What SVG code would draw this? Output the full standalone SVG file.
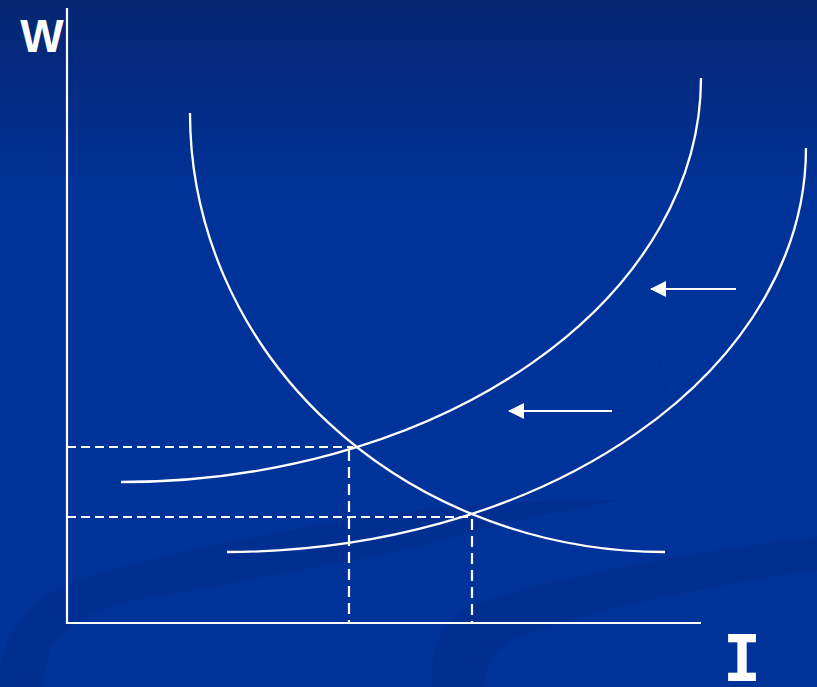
<svg xmlns="http://www.w3.org/2000/svg" width="817" height="687" viewBox="0 0 817 687">
<defs>
<linearGradient id="bg" x1="0" y1="0" x2="0" y2="1">
<stop offset="0" stop-color="#052672"/>
<stop offset="0.3" stop-color="#00339a"/>
<stop offset="1" stop-color="#003399"/>
</linearGradient>
<marker id="ah" viewBox="0 0 16 16" refX="15" refY="8" markerWidth="16" markerHeight="16" markerUnits="userSpaceOnUse" orient="auto">
<path d="M0,0 L16,8 L0,16 Z" fill="#ffffff"/>
</marker>
<style>
.ax{stroke:#ffffff;stroke-width:2.2;fill:none}
.cv{stroke:#ffffff;stroke-width:2.3;fill:none}
.dh{stroke:#ffffff;stroke-width:2.2;fill:none;stroke-dasharray:9 5}
.dv{stroke:#ffffff;stroke-width:2.2;fill:none;stroke-dasharray:11 6}
.ar{stroke:#ffffff;stroke-width:2.2;fill:none}
.sw{fill:#00287c;opacity:0.28}
.lbl{fill:#ffffff;font-weight:bold}
</style>
</defs>
<rect x="0" y="0" width="817" height="687" fill="url(#bg)"/>
<g id="background-swooshes">
<path class="sw" d="M0,667 C5,630 30,600 70,583 C150,555 300,525 420,510 C500,502 570,500 625,500 C560,510 480,528 420,547 C330,565 200,590 133,600 C85,612 60,630 50,650 C45,665 43,680 43,687 L0,687 Z"/>
<path class="sw" d="M433,687 C430,660 435,630 460,612 C500,590 600,570 700,553 C750,545 790,540 817,537 L817,570 C780,575 740,582 700,590 C620,605 560,620 513,640 C490,652 485,670 484,687 Z"/>
<path d="M640,323 C655,338 664,370 667,403" stroke="#002a80" stroke-width="3" fill="none" opacity="0.25"/>
</g>
<g id="axes">
<line class="ax" x1="67" y1="8" x2="67" y2="624"/>
<line class="ax" x1="66" y1="623" x2="701" y2="623"/>
</g>
<g id="demand-curve">
<path class="cv" d="M190,113 A475,439 0 0 0 665,552"/>
</g>
<g id="supply-curve-1">
<path class="cv" d="M121,482 A580,404 0 0 0 701,78"/>
</g>
<g id="supply-curve-2">
<path class="cv" d="M227,552 A580,404 0 0 0 806,148"/>
</g>
<g id="connectors">
<line class="dh" x1="67" y1="447" x2="353" y2="447"/>
<line class="dv" x1="349" y1="450" x2="349" y2="623"/>
<line class="dh" x1="67" y1="517" x2="470" y2="517"/>
<line class="dv" x1="472" y1="519" x2="472" y2="623"/>
<line class="ar" x1="736" y1="289" x2="651" y2="289" marker-end="url(#ah)"/>
<line class="ar" x1="612" y1="411" x2="509" y2="411" marker-end="url(#ah)"/>
</g>
<g id="label-w">
<text class="lbl" x="42" y="52" text-anchor="middle" font-family="Liberation Sans, Arial, sans-serif" font-size="46">W</text>
</g>
<g id="label-i">
<text class="lbl" x="742" y="681" text-anchor="middle" font-family="DejaVu Sans Mono, monospace" font-size="64">I</text>
</g>
</svg>
